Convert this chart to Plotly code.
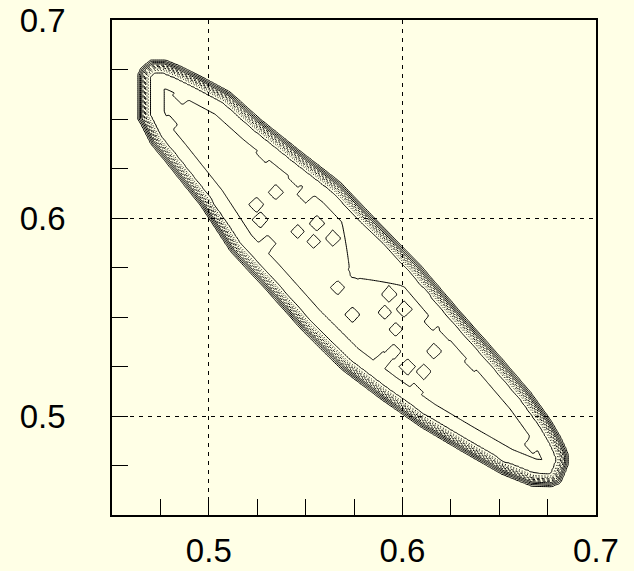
import numpy as np
import plotly.graph_objects as go

# ---- data ----
# outer boundary of the populated region: upper edge and lower edge sampled at x
edge_x = [0.4647, 0.4699, 0.4776, 0.4854, 0.4957, 0.5112, 0.5267, 0.5474, 0.5681,
          0.5888, 0.6095, 0.6302, 0.6509, 0.6664, 0.6768, 0.6819, 0.6850]
edge_upper_y = [0.6760, 0.6801, 0.6801, 0.6770, 0.6720, 0.6639, 0.6503, 0.6341, 0.6184,
                0.5972, 0.5765, 0.5528, 0.5300, 0.5123, 0.4982, 0.4896, 0.4831]
edge_lower_y = [0.6472, 0.6371, 0.6280, 0.6184, 0.6058, 0.5826, 0.5664, 0.5437, 0.5235,
                0.5082, 0.4941, 0.4821, 0.4705, 0.4644, 0.4639, 0.4659, 0.4730]
left_cap = (0.4631, 0.6497, 0.6725)    # x, y from, y to
right_cap = (0.6860, 0.4760, 0.4800)

edge_width = 0.007            # width of the steep edge of the distribution
plateau_level = 95.0          # interior content
edge_excess = 14.0            # excess near the edges
edge_excess_range = 0.020

# small high islands inside the plateau (x, y)
island_x = [0.4864, 0.4792, 0.5293, 0.5459, 0.5500, 0.5345, 0.5645, 0.5050,
            0.5247, 0.5267, 0.5102, 0.5557, 0.5459, 0.5640, 0.5304, 0.5541,
            0.5769, 0.6002, 0.5666, 0.5930, 0.6111, 0.6007, 0.6157,
            0.5965, 0.5743, 0.5903, 0.6027, 0.5955, 0.6162, 0.6111, 0.6240,
            0.6369, 0.6059, 0.6111, 0.6674, 0.6524, 0.5908]
island_y = [0.6619, 0.6472, 0.6326, 0.6205, 0.6119, 0.6129, 0.6078, 0.6073,
            0.6068, 0.5992, 0.6018, 0.5972, 0.5932, 0.5896, 0.5871, 0.5881,
            0.5740, 0.5725, 0.5649, 0.5614, 0.5614, 0.5538, 0.5477,
            0.5437, 0.5513, 0.5285, 0.5250, 0.5326, 0.5326, 0.5225, 0.5437,
            0.5275, 0.5119, 0.5043, 0.4856, 0.4785, 0.5523]
island_amp = 14.0
island_radius = 0.005
blob_x, blob_y, blob_amp, blob_radius = 0.5847, 0.5816, 14.0, 0.016

# contour levels
levels_solid = [5, 15, 25, 35]
levels_dashed = [45, 55, 65]
levels_dotted = [75, 85]
levels_inner = [102]

axis_range = [0.45, 0.70]
major_ticks = [0.5, 0.6, 0.7]
major_labels = ["0.5", "0.6", "0.7"]
minor_step = 0.025

# ---- build the histogram-like surface ----
poly = [(left_cap[0], left_cap[1]), (left_cap[0], left_cap[2])]
poly += list(zip(edge_x, edge_upper_y))
poly += [(right_cap[0], right_cap[2]), (right_cap[0], right_cap[1])]
poly += list(zip(edge_x[::-1], edge_lower_y[::-1]))
poly = np.array(poly)

xs = np.linspace(0.45, 0.70, 251)
ys = np.linspace(0.45, 0.70, 251)
X, Y = np.meshgrid(xs, ys)

n = len(poly)
dist = np.full(X.shape, np.inf)
inside = np.zeros(X.shape, dtype=bool)
for i in range(n):
    ax, ay = poly[i]
    bx, by = poly[(i + 1) % n]
    ex, ey = bx - ax, by - ay
    L2 = ex * ex + ey * ey
    t = np.clip(((X - ax) * ex + (Y - ay) * ey) / L2, 0, 1)
    dd = np.hypot(X - (ax + t * ex), Y - (ay + t * ey))
    dist = np.minimum(dist, dd)
    cond = ((ay > Y) != (by > Y))
    xint = ax + (Y - ay) * ex / (ey if ey != 0 else 1e-12)
    inside ^= cond & (X < xint)

s = np.where(inside, dist, -dist)          # signed distance, positive inside
ramp = np.clip(s / edge_width, 0, 1)
plateau = plateau_level + edge_excess * np.exp(-np.maximum(s, 0) / edge_excess_range)
bumps = np.zeros_like(X)
for ix, iy in zip(island_x, island_y):
    bumps += island_amp * np.clip(1 - (np.abs(X - ix) + np.abs(Y - iy)) / island_radius, 0, 1)
bumps += blob_amp * np.clip(1 - np.maximum(np.abs(X - blob_x), np.abs(Y - blob_y)) / blob_radius, 0, 1)
Z = np.round(ramp * (plateau + bumps), 2)

fig = go.Figure()


def add_levels(levels, dash):
    step = (levels[1] - levels[0]) if len(levels) > 1 else 1
    fig.add_trace(go.Contour(
        x=xs, y=ys, z=Z,
        autocontour=False,
        contours=dict(start=levels[0], end=levels[-1], size=step, coloring="lines"),
        colorscale=[[0, "black"], [1, "black"]],
        showscale=False,
        line=dict(width=1, dash=dash),
        hoverinfo="skip",
    ))


add_levels(levels_solid, "solid")
add_levels(levels_dashed, "3px,2px")
add_levels(levels_dotted, "1px,2px")
add_levels(levels_inner, "solid")

bg = "#ffffe6"
axis_common = dict(
    range=axis_range,
    tickvals=major_ticks,
    ticktext=major_labels,
    ticks="inside",
    ticklen=16,
    tickwidth=1,
    tickcolor="black",
    showline=True,
    linecolor="black",
    linewidth=1.5,
    mirror=True,
    showgrid=True,
    gridcolor="black",
    gridwidth=1,
    griddash="4px,5px",
    zeroline=False,
    tickfont=dict(family="Liberation Sans, Arial, sans-serif", size=33, color="black"),
    minor=dict(dtick=minor_step, tick0=0.45, ticks="inside", ticklen=16,
               tickwidth=1, tickcolor="black", showgrid=False),
)

fig.update_xaxes(**axis_common, ticklabelstandoff=6)
fig.update_yaxes(**axis_common, ticklabelstandoff=38)

fig.update_layout(
    width=634, height=571,
    margin=dict(l=112, r=38, t=20, b=56, autoexpand=False),
    paper_bgcolor=bg,
    plot_bgcolor=bg,
    showlegend=False,
)

fig.write_html("out.html")
